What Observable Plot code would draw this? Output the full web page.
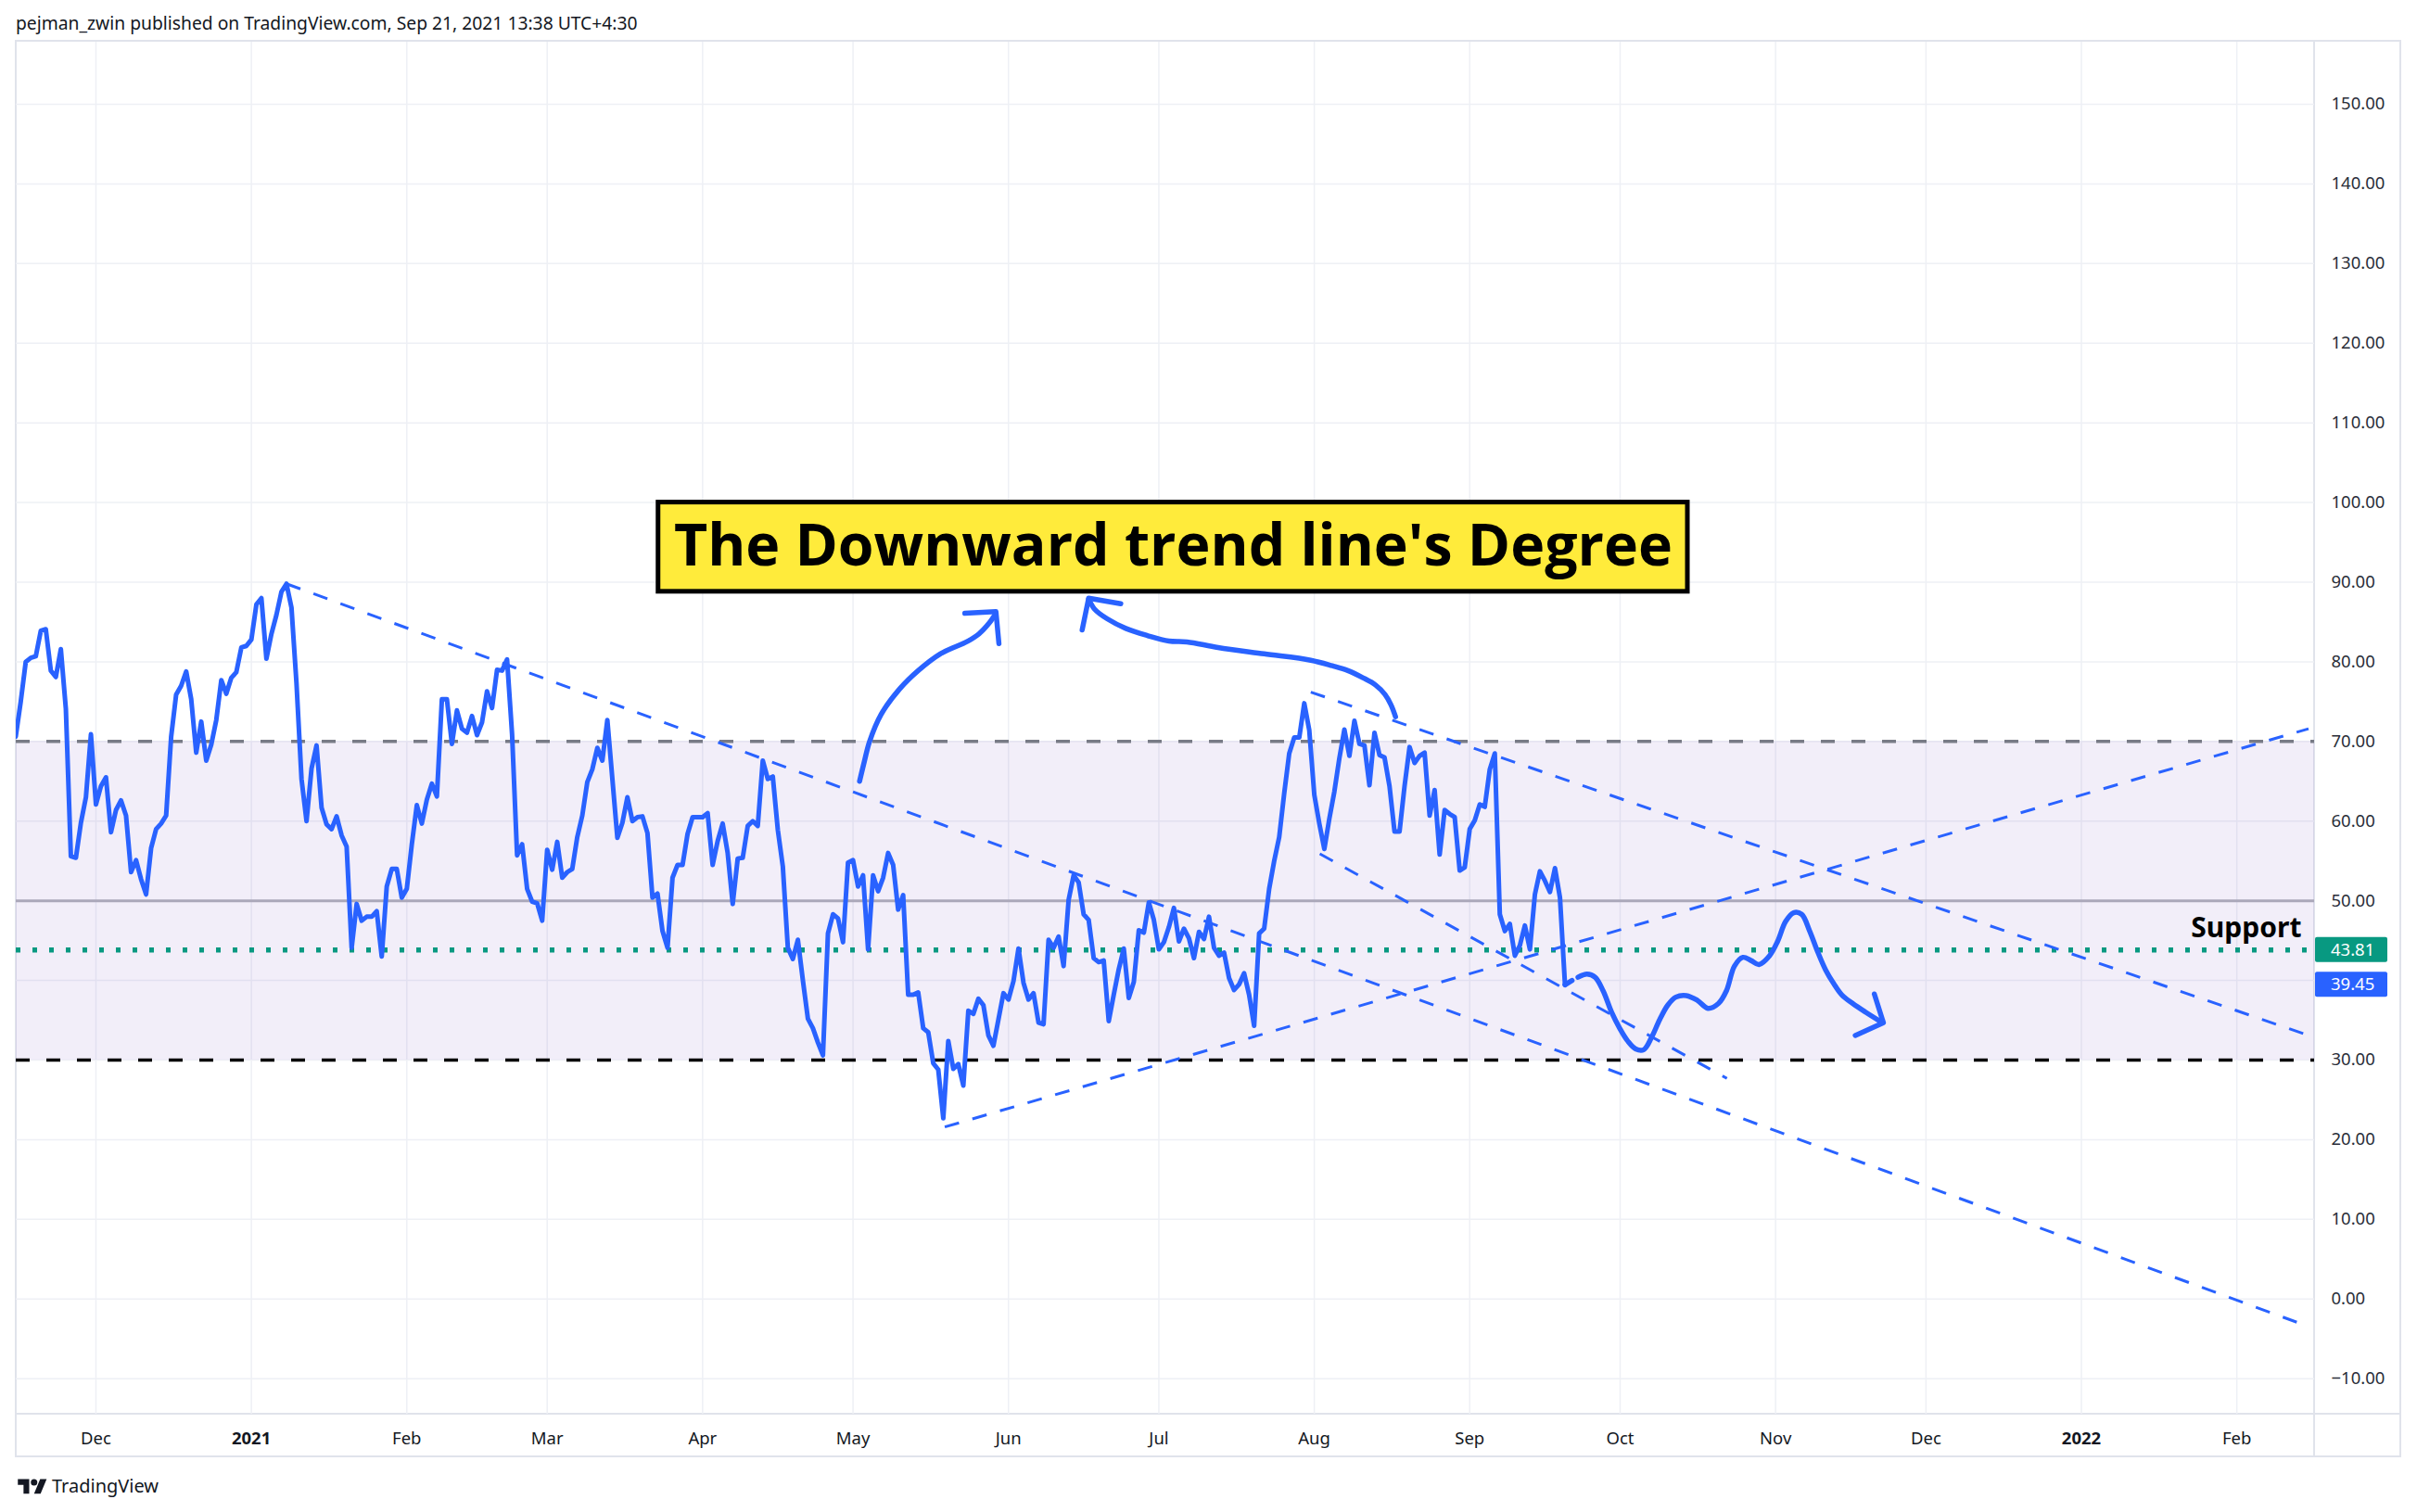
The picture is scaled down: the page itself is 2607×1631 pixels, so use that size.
<!DOCTYPE html>
<html>
<head>
<meta charset="utf-8">
<script src="https://cdn.jsdelivr.net/npm/d3@7"></script>
<script src="https://cdn.jsdelivr.net/npm/@observablehq/plot@0.6"></script>
<style>
  html, body { margin:0; padding:0; background:#ffffff; }
  #page { position:relative; width:2607px; height:1631px; overflow:hidden; font-family:"Noto Sans", sans-serif; }
  #chart { position:absolute; left:0; top:0; }
  #header { position:absolute; left:17px; top:11px; font-size:19.3px; color:#131722; white-space:nowrap; }
  #footer { position:absolute; left:17px; top:1589px; display:flex; align-items:center; gap:3px; font-size:20px; color:#131722; }
</style>
</head>
<body>
<div id="page">
  <div id="chart"></div>
  <div id="header">pejman_zwin published on TradingView.com, Sep 21, 2021 13:38 UTC+4:30</div>
  <div id="footer"><svg width="36" height="21" viewBox="0 0 36 24"><path d="M14 22H7V11H0V4h14v18zM28 22h-8l7.5-18h8L28 22z" fill="#131722"/><circle cx="20" cy="8" r="4" fill="#131722"/></svg><span>TradingView</span></div>
</div>
<script>
// ---------------- data ----------------
const rsiStart = "2020-11-15"; // daily values from this date
const rsiValues = [
  // Nov 15 - Nov 30, 2020
  70.6, 75.0, 80.0, 80.5, 80.7, 83.9, 84.1, 78.9, 78.1, 81.6, 74.1, 55.6, 55.4, 59.8, 63.0, 70.9,
  // Dec 2020
  62.1, 64.4, 65.5, 58.6, 61.4, 62.6, 60.7, 53.6, 55.1, 52.7, 50.8, 56.6, 59.0, 59.7, 60.7, 70.6,
  75.9, 77.0, 78.8, 75.3, 68.6, 72.5, 67.6, 69.6, 72.7, 77.7, 76.0, 78.0, 78.7, 81.8, 82.0,
  // Jan 2021
  82.8, 87.2, 88.0, 80.4, 83.5, 85.9, 88.8, 89.8, 86.8, 77.3, 65.3, 60.0, 66.6, 69.5, 61.7, 59.6,
  59.0, 60.6, 58.2, 56.8, 44.1, 49.6, 47.5, 48.0, 48.0, 48.7, 43.0, 51.8, 54.0, 54.0, 50.4,
  // Feb 2021
  51.5, 57.1, 62.0, 59.7, 62.7, 64.7, 63.1, 75.3, 75.3, 69.7, 73.9, 71.6, 71.1, 73.2, 70.8, 72.4,
  76.3, 74.2, 79.0, 78.9, 80.3, 70.9, 55.7, 57.1, 51.5, 49.9, 49.7, 47.5,
  // Mar 2021
  56.4, 53.9, 57.4, 52.9, 53.6, 54.0, 58.0, 60.7, 64.9, 66.5, 69.2, 67.6, 72.7, 65.3, 57.9, 59.8,
  63.0, 60.0, 60.5, 60.6, 58.5, 50.4, 50.9, 46.2, 44.1, 52.9, 54.5, 54.5, 58.4, 60.5, 60.5,
  // Apr 2021
  60.5, 61.0, 54.5, 57.5, 59.7, 56.0, 49.6, 55.3, 55.4, 59.4, 60.0, 59.4, 67.6, 65.3, 65.6, 58.9,
  54.3, 44.1, 42.7, 45.1, 40.0, 35.2, 34.0, 32.2, 30.6, 45.9, 48.3, 47.8, 44.8, 54.8,
  // May 2021
  55.1, 51.8, 53.2, 43.9, 53.2, 51.2, 52.9, 56.0, 54.5, 48.9, 50.7, 38.2, 38.2, 38.5, 34.0, 33.5,
  29.6, 28.8, 22.7, 32.4, 28.9, 29.5, 26.8, 36.2, 35.8, 37.7, 36.9, 33.1, 31.8, 35.1, 38.4,
  // Jun 2021
  37.6, 39.9, 44.0, 39.7, 37.6, 38.4, 34.7, 34.5, 45.1, 44.1, 45.5, 41.8, 50.1, 53.2, 52.3, 48.3,
  47.6, 42.8, 42.3, 42.5, 34.9, 38.2, 41.4, 44.0, 37.8, 39.8, 46.3, 46.0, 49.8, 47.6,
  // Jul 2021
  43.9, 44.8, 46.7, 49.1, 44.9, 46.5, 45.3, 42.8, 46.1, 45.2, 48.0, 44.1, 43.1, 43.5, 40.3, 38.8,
  39.5, 40.9, 38.2, 34.3, 45.9, 46.5, 51.5, 55.0, 58.0, 63.5, 68.5, 70.5, 70.5, 74.8, 71.4,
  // Aug 2021
  63.3, 59.7, 56.5, 60.3, 63.7, 67.9, 71.5, 68.2, 72.6, 69.7, 69.5, 64.5, 71.1, 68.3, 68.0, 64.4,
  58.7, 58.7, 64.4, 69.3, 67.3, 68.2, 68.6, 60.7, 63.9, 55.8, 61.4, 60.9, 60.5, 53.8, 54.2,
  // Sep 1 - Sep 20, 2021
  59.0, 60.1, 62.1, 61.8, 66.5, 68.5, 48.3, 46.2, 47.1, 43.1, 44.4, 46.9, 43.9, 50.8, 53.7, 52.5,
  51.1, 54.1, 50.4, 39.45
];

const levelUpper = 70, levelMiddle = 50, levelLower = 30;
const supportLevel = 43.81;
const lastValue = 39.45;

const yTicks = [-10, 0, 10, 20, 30, 40, 50, 60, 70, 80, 90, 100, 110, 120, 130, 140, 150];
const monthTicks = ["2020-12-01","2021-01-01","2021-02-01","2021-03-01","2021-04-01","2021-05-01","2021-06-01",
  "2021-07-01","2021-08-01","2021-09-01","2021-10-01","2021-11-01","2021-12-01","2022-01-01","2022-02-01"];
const monthLabels = ["Dec","2021","Feb","Mar","Apr","May","Jun","Jul","Aug","Sep","Oct","Nov","Dec","2022","Feb"];

// drawings: x given as days after this date
const baseDay = "2020-12-01";
const viewDays = [-15.9, 442.5];
const viewValues = [-14.46, 157.8];

const trendStartDay   = [38.0, 242.3, 244.1, 169.3];
const trendStartValue = [89.8, 76.2, 55.9, 21.6];
const trendEndDay     = [441.5, 441.3, 325.3, 441.3];
const trendEndValue   = [-3.5, 33.1, 27.7, 71.6];

const curve1Day   = [152.3, 153.3, 154.3, 156.6, 160.3, 164.0, 168.4, 173.9, 176.1, 178.2, 179.5];
const curve1Value = [65.0, 67.6, 70.0, 73.4, 76.6, 78.9, 81.0, 82.6, 83.5, 84.9, 86.1];
const arrow1Day   = [173.3, 179.5, 180.1];
const arrow1Value = [86.1, 86.3, 82.3];

const curve2Day   = [259.2, 258.3, 257.1, 255.2, 252.7, 249.7, 246.6, 242.3, 233.0, 223.8, 217.6, 214.0, 209.7, 205.4, 201.7, 199.2, 198.0];
const curve2Value = [73.1, 74.6, 75.9, 77.1, 78.0, 78.9, 79.5, 80.2, 81.0, 81.8, 82.5, 82.6, 83.3, 84.2, 85.4, 86.6, 87.9];
const arrow2Day   = [196.7, 198.0, 204.4];
const arrow2Value = [84.0, 88.0, 87.3];

const hookDay = [293.0, 294.4];
const hookValue = [39.45, 40.0];

const curve3Day   = [295.6, 297.4, 299.0, 300.6, 302.3, 303.9, 305.5, 307.1, 308.7, 310.3, 311.9, 313.5, 315.1, 317.2,
  319.4, 321.5, 323.6, 325.2, 326.8, 328.5, 330.1, 331.7, 333.8, 335.4, 337.0, 338.6, 340.2, 341.8, 343.4, 345.0,
  346.6, 348.2, 350.4, 353.0, 356.3];
const curve3Value = [40.4, 40.8, 40.4, 38.7, 36.0, 34.0, 32.4, 31.4, 31.3, 32.9, 35.1, 36.9, 37.9, 38.1,
  37.5, 36.5, 37.1, 38.7, 41.8, 42.9, 42.5, 42.0, 43.1, 44.9, 47.4, 48.5, 48.3, 46.2, 43.6, 41.3,
  39.6, 38.2, 37.1, 36.0, 34.7];
const arrow3Day   = [350.9, 356.5, 354.7];
const arrow3Value = [33.1, 34.7, 38.3];

const titleText = "The Downward trend line's Degree";
const titleBoxDay = [112.2, 317.5];
const titleBoxValue = [88.8, 100.0];

const supportText = "Support";
const supportLabelDay = 439.9;
const supportLabelValue = 46.5;

// ---------------- build ----------------
const W = 2607, H = 1631;
const day = d => new Date(Date.parse(baseDay) + d * 864e5);
const rsi = rsiValues.map((v, i) => ({date: new Date(Date.parse(rsiStart) + i * 864e5), value: v}));
const trends = trendStartDay.map((d, i) => ({x1: day(d), y1: trendStartValue[i], x2: day(trendEndDay[i]), y2: trendEndValue[i]}));
const pts = (ds, vs) => ds.map((d, i) => ({x: day(d), y: vs[i]}));
const months = monthTicks.map(s => new Date(s));
const labelOf = new Map(months.map((m, i) => [m.getTime(), monthLabels[i]]));
const isYear = m => /^\d{4}$/.test(labelOf.get(m.getTime()));
const fmt = v => (v < 0 ? "\u2212" + Math.abs(v).toFixed(2) : v.toFixed(2));

const blue = "#2962ff";
const handStyle = {x: "x", y: "y", stroke: blue, strokeWidth: 5.5, strokeLinecap: "round", strokeLinejoin: "round"};

const plot = Plot.plot({
  width: W, height: H,
  marginLeft: 17, marginRight: W - 2496, marginTop: 45, marginBottom: H - 1525,
  x: {type: "utc", domain: viewDays.map(day), axis: null},
  y: {domain: viewValues, axis: null},
  style: {fontFamily: '"Noto Sans", sans-serif', background: "transparent", overflow: "visible"},
  marks: [
    Plot.ruleY(yTicks, {stroke: "#eef0f5", strokeWidth: 1.5}),
    Plot.ruleX(months, {stroke: "#eef0f5", strokeWidth: 1.5}),
    Plot.rect([{x1: day(viewDays[0]), x2: day(viewDays[1]), y1: levelLower, y2: levelUpper}],
      {x1: "x1", x2: "x2", y1: "y1", y2: "y2", fill: "#7e57c2", fillOpacity: 0.1}),
    Plot.ruleY([levelMiddle], {stroke: "#aba8ba", strokeWidth: 3}),
    Plot.ruleY([levelUpper], {stroke: "#787b86", strokeWidth: 3.5, strokeDasharray: "15,18"}),
    Plot.ruleY([levelLower], {stroke: "#000000", strokeWidth: 3.5, strokeDasharray: "15,18"}),
    Plot.ruleY([supportLevel], {stroke: "#089981", strokeWidth: 5.5, strokeDasharray: "5,13"}),
    Plot.line(rsi, {x: "date", y: "value", stroke: blue, strokeWidth: 5, strokeLinejoin: "round", clip: true}),
    Plot.link(trends, {x1: "x1", y1: "y1", x2: "x2", y2: "y2", stroke: blue, strokeWidth: 3, strokeDasharray: "16,15", clip: true}),
    Plot.line(pts(curve1Day, curve1Value), {...handStyle, curve: "catmull-rom"}),
    Plot.line(pts(arrow1Day, arrow1Value), handStyle),
    Plot.line(pts(curve2Day, curve2Value), {...handStyle, curve: "catmull-rom"}),
    Plot.line(pts(arrow2Day, arrow2Value), handStyle),
    Plot.line(pts(hookDay, hookValue), handStyle),
    Plot.line(pts(curve3Day, curve3Value), {...handStyle, curve: "catmull-rom"}),
    Plot.line(pts(arrow3Day, arrow3Value), handStyle),
    Plot.rect([{x1: day(titleBoxDay[0]), x2: day(titleBoxDay[1]), y1: titleBoxValue[0], y2: titleBoxValue[1]}],
      {x1: "x1", x2: "x2", y1: "y1", y2: "y2", fill: "#ffeb3b", stroke: "#000000", strokeWidth: 5}),
    Plot.text([{x: day((titleBoxDay[0] + titleBoxDay[1]) / 2), y: (titleBoxValue[0] + titleBoxValue[1]) / 2, t: titleText}],
      {x: "x", y: "y", text: "t", fontSize: 62, fontWeight: "bold", fill: "#000000", fontFamily: '"Open Sans", sans-serif', className: "title-text"}),
    Plot.text([{x: day(supportLabelDay), y: supportLabelValue, t: supportText}],
      {x: "x", y: "y", text: "t", textAnchor: "end", fontSize: 30, fontWeight: "bold", fill: "#000000"}),
    // axis labels
    Plot.text(yTicks, {y: d => d, text: fmt, frameAnchor: "right", dx: 18, textAnchor: "start", fontSize: 18.5, fill: "#2a2e39"}),
    Plot.text(months.filter(m => !isYear(m)), {x: d => d, text: d => labelOf.get(d.getTime()), frameAnchor: "bottom", dy: 32, fontSize: 18.5, fill: "#131722"}),
    Plot.text(months.filter(isYear), {x: d => d, text: d => labelOf.get(d.getTime()), frameAnchor: "bottom", dy: 32, fontSize: 18.5, fontWeight: "bold", fill: "#131722"})
  ]
});

document.getElementById("chart").appendChild(plot);

// frame borders and last-value labels on the price scale
const svg = d3.select(plot);
const ys = plot.scale("y");
const frame = svg.insert("g", ":first-child");
const borderColor = "#e0e3eb";
frame.append("rect").attr("x", 17).attr("y", 44).attr("width", 2589 - 17).attr("height", 1571 - 44)
  .attr("fill", "none").attr("stroke", borderColor).attr("stroke-width", 2);
frame.append("line").attr("x1", W - 111).attr("x2", W - 111).attr("y1", 44).attr("y2", 1571).attr("stroke", borderColor).attr("stroke-width", 2);
frame.append("line").attr("x1", 17).attr("x2", 2589).attr("y1", 1525).attr("y2", 1525).attr("stroke", borderColor).attr("stroke-width", 2);

const priceLabels = [{value: supportLevel, color: "#089981"}, {value: lastValue, color: blue}];
for (const p of priceLabels) {
  const y = ys.apply(p.value);
  svg.append("rect").attr("x", W - 110).attr("y", y - 13.5).attr("width", 78).attr("height", 27).attr("rx", 2).attr("fill", p.color);
  svg.append("text").attr("x", W - 93).attr("y", y).attr("dy", "0.35em").attr("fill", "#ffffff")
    .attr("text-anchor", "start").attr("font-size", 18.5).attr("font-family", '"Noto Sans", sans-serif').text(p.value.toFixed(2));
}
svg.selectAll(".title-text text").attr("textLength", 1077).attr("lengthAdjust", "spacingAndGlyphs");
</script>
</body>
</html>
